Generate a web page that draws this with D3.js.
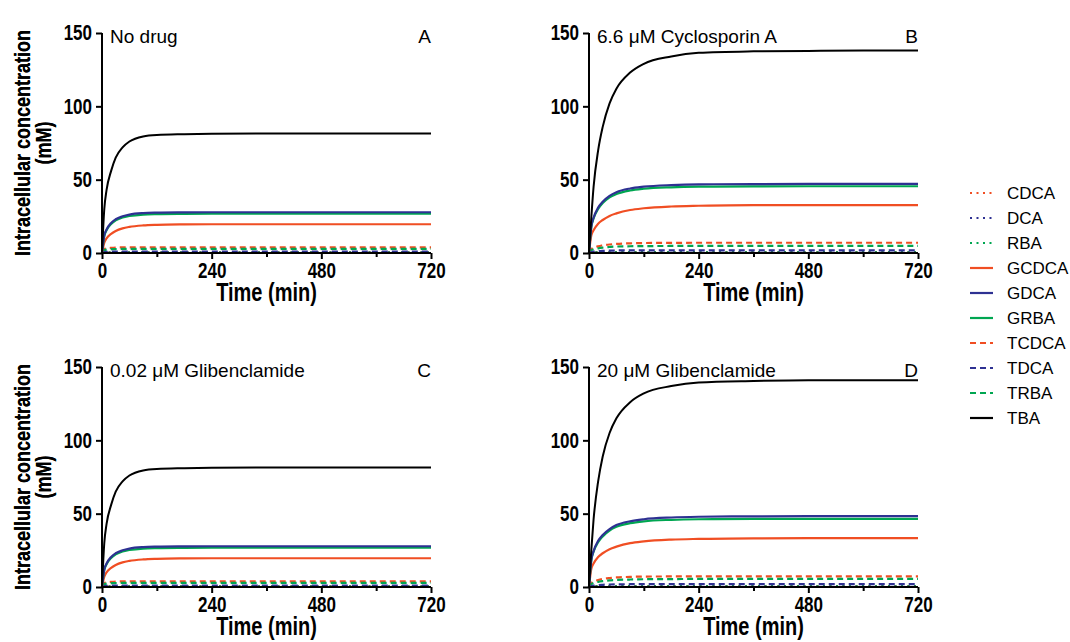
<!DOCTYPE html>
<html>
<head>
<meta charset="utf-8">
<title>Intracellular concentration</title>
<script src="https://cdn.jsdelivr.net/npm/d3@7"></script>
<style>
  body { margin: 0; background: #fff; }
  svg text { font-family: Arial, "Liberation Sans", Helvetica, sans-serif; fill: #000; }
</style>
</head>
<body>
<script>
var times = [0, 5, 10, 20, 30, 45, 60, 90, 120, 180, 240, 360, 480, 600, 720];

var speciesNames = ["CDCA", "DCA", "RBA", "GCDCA", "GDCA", "GRBA", "TCDCA", "TDCA", "TRBA", "TBA"];
var panelLetters = ["A", "B", "C", "D"];
var panelTitles = ["No drug", "6.6 \u03bcM Cyclosporin A", "0.02 \u03bcM Glibenclamide", "20 \u03bcM Glibenclamide"];

var xTicks = [0, 240, 480, 720];
var xMinorTicks = [120, 360, 600];
var yTicks = [0, 50, 100, 150];

// A: no drug
var A_CDCA  = [0, 0.3, 0.4, 0.4, 0.4, 0.4, 0.4, 0.4, 0.4, 0.4, 0.4, 0.4, 0.4, 0.4, 0.4];
var A_DCA   = [0, 0.1, 0.15, 0.2, 0.2, 0.2, 0.2, 0.2, 0.2, 0.2, 0.2, 0.2, 0.2, 0.2, 0.2];
var A_RBA   = [0, 0.2, 0.3, 0.3, 0.3, 0.3, 0.3, 0.3, 0.3, 0.3, 0.3, 0.3, 0.3, 0.3, 0.3];
var A_GCDCA = [0, 7, 10, 13, 15, 16.8, 17.8, 18.8, 19.2, 19.5, 19.6, 19.6, 19.6, 19.6, 19.6];
var A_GDCA  = [0, 12, 16, 20.5, 23, 25, 26.2, 27.2, 27.5, 27.7, 27.8, 27.8, 27.8, 27.8, 27.8];
var A_GRBA  = [0, 11.5, 15.5, 19.8, 22.2, 24.2, 25.2, 26.2, 26.5, 26.7, 26.8, 26.8, 26.8, 26.8, 26.8];
var A_TCDCA = [0, 2.5, 3.1, 3.5, 3.7, 3.8, 3.9, 3.9, 3.9, 3.9, 3.9, 3.9, 3.9, 3.9, 3.9];
var A_TDCA  = [0, 0.6, 0.8, 0.9, 0.9, 0.9, 0.9, 0.9, 0.9, 0.9, 0.9, 0.9, 0.9, 0.9, 0.9];
var A_TRBA  = [0, 1.8, 2.3, 2.6, 2.7, 2.8, 2.8, 2.8, 2.8, 2.8, 2.8, 2.8, 2.8, 2.8, 2.8];
var A_TBA   = [0, 30, 43, 56, 65, 72, 76, 79.5, 80.5, 81, 81.3, 81.5, 81.5, 81.5, 81.5];

// B: 6.6 uM cyclosporin A
var B_CDCA  = [0, 0.3, 0.5, 0.6, 0.6, 0.6, 0.6, 0.6, 0.6, 0.6, 0.6, 0.6, 0.6, 0.6, 0.6];
var B_DCA   = [0, 0.1, 0.2, 0.3, 0.3, 0.3, 0.3, 0.3, 0.3, 0.3, 0.3, 0.3, 0.3, 0.3, 0.3];
var B_RBA   = [0, 0.2, 0.3, 0.4, 0.4, 0.4, 0.4, 0.4, 0.4, 0.4, 0.4, 0.4, 0.4, 0.4, 0.4];
var B_GCDCA = [0, 12, 15.5, 20, 22.5, 25.3, 27, 29.3, 30.5, 31.7, 32.2, 32.6, 32.7, 32.7, 32.7];
var B_GDCA  = [0, 18, 24, 31, 35, 39, 41.5, 44, 45.2, 46.3, 46.8, 47, 47.1, 47.1, 47.1];
var B_GRBA  = [0, 17.5, 23.5, 30, 34, 38, 40.2, 42.6, 43.8, 44.8, 45.2, 45.4, 45.5, 45.5, 45.5];
var B_TCDCA = [0, 2.5, 3.5, 4.6, 5.2, 5.8, 6.2, 6.6, 6.8, 6.9, 7, 7, 7, 7, 7];
var B_TDCA  = [0, 0.6, 0.9, 1.2, 1.4, 1.6, 1.7, 1.8, 1.8, 1.8, 1.8, 1.8, 1.8, 1.8, 1.8];
var B_TRBA  = [0, 1.8, 2.5, 3.2, 3.7, 4.1, 4.4, 4.6, 4.7, 4.8, 4.9, 4.9, 4.9, 4.9, 4.9];
var B_TBA   = [0, 24, 45, 70, 86, 102, 112, 123, 129, 134, 136.5, 137.5, 137.8, 138, 138];

// C: 0.02 uM glibenclamide
var C_CDCA  = [0, 0.3, 0.4, 0.4, 0.4, 0.4, 0.4, 0.4, 0.4, 0.4, 0.4, 0.4, 0.4, 0.4, 0.4];
var C_DCA   = [0, 0.1, 0.15, 0.2, 0.2, 0.2, 0.2, 0.2, 0.2, 0.2, 0.2, 0.2, 0.2, 0.2, 0.2];
var C_RBA   = [0, 0.2, 0.3, 0.3, 0.3, 0.3, 0.3, 0.3, 0.3, 0.3, 0.3, 0.3, 0.3, 0.3, 0.3];
var C_GCDCA = [0, 7, 10, 13, 15, 16.8, 17.8, 18.8, 19.2, 19.5, 19.6, 19.6, 19.6, 19.6, 19.6];
var C_GDCA  = [0, 12, 16, 20.5, 23, 25, 26.2, 27.2, 27.5, 27.7, 27.8, 27.8, 27.8, 27.8, 27.8];
var C_GRBA  = [0, 11.5, 15.5, 19.8, 22.2, 24.2, 25.2, 26.2, 26.5, 26.7, 26.8, 26.8, 26.8, 26.8, 26.8];
var C_TCDCA = [0, 2.5, 3.1, 3.5, 3.7, 3.8, 3.9, 3.9, 3.9, 3.9, 3.9, 3.9, 3.9, 3.9, 3.9];
var C_TDCA  = [0, 0.6, 0.8, 0.9, 0.9, 0.9, 0.9, 0.9, 0.9, 0.9, 0.9, 0.9, 0.9, 0.9, 0.9];
var C_TRBA  = [0, 1.8, 2.3, 2.6, 2.7, 2.8, 2.8, 2.8, 2.8, 2.8, 2.8, 2.8, 2.8, 2.8, 2.8];
var C_TBA   = [0, 30, 43, 56, 65, 72, 76, 79.5, 80.5, 81, 81.3, 81.5, 81.5, 81.5, 81.5];

// D: 20 uM glibenclamide
var D_CDCA  = [0, 0.3, 0.5, 0.6, 0.6, 0.6, 0.6, 0.6, 0.6, 0.6, 0.6, 0.6, 0.6, 0.6, 0.6];
var D_DCA   = [0, 0.1, 0.2, 0.3, 0.3, 0.3, 0.3, 0.3, 0.3, 0.3, 0.3, 0.3, 0.3, 0.3, 0.3];
var D_RBA   = [0, 0.2, 0.3, 0.4, 0.4, 0.4, 0.4, 0.4, 0.4, 0.4, 0.4, 0.4, 0.4, 0.4, 0.4];
var D_GCDCA = [0, 12.3, 16, 20.5, 23, 25.8, 27.5, 29.9, 31.1, 32.3, 32.8, 33.2, 33.3, 33.3, 33.3];
var D_GDCA  = [0, 18.5, 24.5, 31.5, 35.5, 39.5, 42.2, 44.8, 46.2, 47.4, 47.9, 48.2, 48.3, 48.3, 48.3];
var D_GRBA  = [0, 18, 24, 30.5, 34.5, 38.5, 41, 43.5, 44.8, 45.8, 46.2, 46.4, 46.5, 46.5, 46.5];
var D_TCDCA = [0, 2.6, 3.7, 4.8, 5.5, 6.1, 6.5, 6.9, 7.1, 7.2, 7.3, 7.3, 7.3, 7.3, 7.3];
var D_TDCA  = [0, 0.6, 0.9, 1.3, 1.5, 1.7, 1.8, 1.9, 2, 2, 2, 2, 2, 2, 2];
var D_TRBA  = [0, 1.9, 2.7, 3.5, 4, 4.5, 4.8, 5.1, 5.3, 5.4, 5.5, 5.5, 5.5, 5.5, 5.5];
var D_TBA   = [0, 25, 46, 72, 89, 105, 115, 126, 132, 137, 139.5, 140.5, 141, 141, 141];

var panelData = {
  A: [A_CDCA, A_DCA, A_RBA, A_GCDCA, A_GDCA, A_GRBA, A_TCDCA, A_TDCA, A_TRBA, A_TBA],
  B: [B_CDCA, B_DCA, B_RBA, B_GCDCA, B_GDCA, B_GRBA, B_TCDCA, B_TDCA, B_TRBA, B_TBA],
  C: [C_CDCA, C_DCA, C_RBA, C_GCDCA, C_GDCA, C_GRBA, C_TCDCA, C_TDCA, C_TRBA, C_TBA],
  D: [D_CDCA, D_DCA, D_RBA, D_GCDCA, D_GDCA, D_GRBA, D_TCDCA, D_TDCA, D_TRBA, D_TBA]
};

// styling per species
var red = "#f04e23", blue = "#2e3192", green = "#00a651";
var colors = [red, blue, green, red, blue, green, red, blue, green, "#000"];
var dashes = ["2,4.5", "2,4.5", "2,4.5", null, null, null, "6,4", "6,4", "6,4", null];
// drawing order: dotted, dashed, solid colours, then TBA on top
var drawOrder = [0, 1, 2, 6, 8, 7, 3, 5, 4, 9];

var width = 1070, height = 642;
var svg = d3.select("body").append("svg")
    .attr("width", width)
    .attr("height", height);

var plotW = 329, plotH = 220;
var origins = [[102, 33], [589, 33], [102, 367], [589, 367]];
var tickStretch = 1.25, titleStretch = 1.25;   // the bold axis text is drawn taller than wide

var x = d3.scaleLinear().domain([0, 720]).range([0, plotW]);
var y = d3.scaleLinear().domain([0, 150]).range([plotH, 0]);

var line = d3.line()
    .x(function (d) { return x(d.t); })
    .y(function (d) { return y(d.v); })
    .curve(d3.curveMonotoneX);

panelLetters.forEach(function (key, i) {
  var g = svg.append("g")
      .attr("transform", "translate(" + origins[i][0] + "," + origins[i][1] + ")");

  // curves
  drawOrder.forEach(function (s) {
    var pts = times.map(function (t, j) { return { t: t, v: panelData[key][s][j] }; });
    g.append("path")
        .datum(pts)
        .attr("fill", "none")
        .attr("stroke", colors[s])
        .attr("stroke-width", s === 9 ? 2 : 2.2)
        .attr("stroke-dasharray", dashes[s])
        .attr("d", line);
  });

  // axes
  var yAxis = g.append("g")
      .call(d3.axisLeft(y).tickValues(yTicks).tickSize(6).tickPadding(4).tickFormat(d3.format("d")));
  var xAxis = g.append("g")
      .attr("transform", "translate(0," + plotH + ")")
      .call(d3.axisBottom(x).tickValues(xTicks).tickSize(6).tickPadding(2).tickFormat(d3.format("d")));
  var xMinor = g.append("g")
      .attr("transform", "translate(0," + plotH + ")")
      .call(d3.axisBottom(x).tickValues(xMinorTicks).tickSize(4).tickFormat(""));
  xMinor.select(".domain").remove();

  [yAxis, xAxis, xMinor].forEach(function (a) {
    a.selectAll("path, line").attr("stroke", "#000").attr("stroke-width", 2);
    a.selectAll("text")
        .attr("transform", "scale(1," + tickStretch + ")")
        .style("font-size", "17px")
        .style("font-weight", "bold")
        .style("font-family", "Arial, 'Liberation Sans', sans-serif");
  });
  yAxis.select(".domain").attr("d", "M0," + plotH + "V0");
  xAxis.select(".domain").attr("d", "M0,0H" + plotW);

  // titles
  g.append("text")
      .attr("x", 8).attr("y", 10)
      .style("font-size", "19px")
      .text(panelTitles[i]);
  g.append("text")
      .attr("x", plotW).attr("y", 10)
      .attr("text-anchor", "end")
      .style("font-size", "19px")
      .text(key);

  // axis titles
  g.append("text")
      .attr("transform", "translate(" + (plotW / 2) + "," + (plotH + 48) + ") scale(1," + titleStretch + ")")
      .attr("text-anchor", "middle")
      .style("font-size", "20px")
      .style("font-weight", "bold")
      .text("Time (min)");
  g.append("text")
      .attr("transform", "translate(" + (-origins[i][0] + 30) + "," + (plotH / 2) + ") rotate(-90) scale(1," + titleStretch + ")")
      .attr("text-anchor", "middle")
      .style("font-size", "18px")
      .style("font-weight", "bold")
      .text("Intracellular concentration");
  g.append("text")
      .attr("transform", "translate(" + (-origins[i][0] + 51) + "," + (plotH / 2) + ") rotate(-90) scale(1," + titleStretch + ")")
      .attr("text-anchor", "middle")
      .style("font-size", "18px")
      .style("font-weight", "bold")
      .text("(mM)");
});

// legend
var legend = svg.append("g").attr("transform", "translate(970,193)");
speciesNames.forEach(function (name, s) {
  var row = legend.append("g").attr("transform", "translate(0," + s * 25 + ")");
  row.append("line")
      .attr("x1", 0).attr("x2", 23)
      .attr("stroke", colors[s])
      .attr("stroke-width", 2.2)
      .attr("stroke-dasharray", dashes[s]);
  row.append("text")
      .attr("x", 37).attr("y", 6)
      .style("font-size", "17px")
      .text(name);
});
</script>
</body>
</html>
